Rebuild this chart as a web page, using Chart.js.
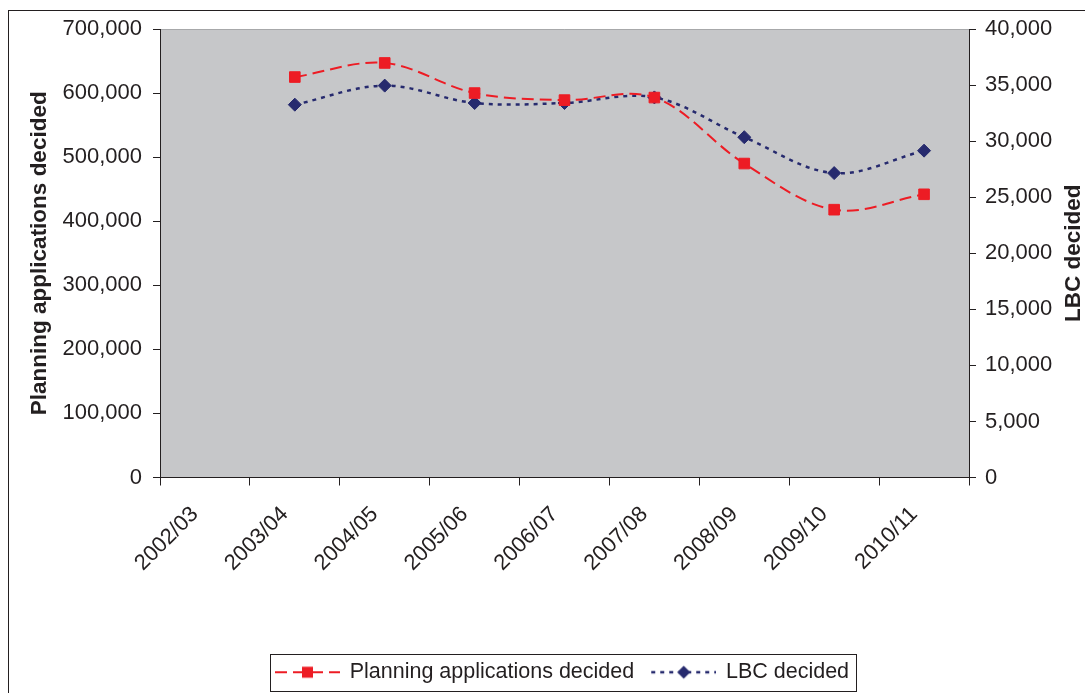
<!DOCTYPE html>
<html>
<head>
<meta charset="utf-8">
<script src="https://cdn.jsdelivr.net/npm/chart.js@4.4.1/dist/chart.umd.min.js"></script>
<style>
  html, body { margin: 0; padding: 0; background: #fff; }
  #wrap { width: 1085px; height: 693px; position: relative; }
</style>
</head>
<body>
<div id="wrap"><canvas id="chart"></canvas></div>
<script>
// years on the x axis
const years = ['2002/03', '2003/04', '2004/05', '2005/06', '2006/07', '2007/08', '2008/09', '2009/10', '2010/11'];
// left axis series
const planningDecided = [null, 625000, 647000, 600000, 589000, 593000, 490000, 418000, 442000];
// right axis series
const lbcDecided = [null, 33250, 34950, 33400, 33400, 33900, 30350, 27150, 29150];

const leftTicks = [0, 100000, 200000, 300000, 400000, 500000, 600000, 700000];
const rightTicks = [0, 5000, 10000, 15000, 20000, 25000, 30000, 35000, 40000];

const RED = '#ed1c24';
const NAVY = '#262a6e';
const INK = '#231f20';
const FONT = "'Liberation Sans', Arial, sans-serif";

// little line + marker picture used as the legend symbol
// canvas is 74 wide, line drawn from 9 to 74 so there is a gap before it
function legendSymbol(color, dash, width, shape) {
    const c = document.createElement('canvas');
    c.width = 74;
    c.height = 16;
    const g = c.getContext('2d');
    g.strokeStyle = color;
    g.lineWidth = width;
    g.setLineDash(dash);
    g.beginPath();
    g.moveTo(9, 8);
    g.lineTo(74, 8);
    g.stroke();
    g.setLineDash([]);
    g.fillStyle = color;
    g.beginPath();
    const cx = 41.5;
    if (shape === 'rect') {
        g.rect(cx - 5.5, 2.5, 11, 11);
    } else {
        g.moveTo(cx, 1.5); g.lineTo(cx + 6.5, 8); g.lineTo(cx, 14.5); g.lineTo(cx - 6.5, 8);
        g.closePath();
    }
    g.fill();
    return c;
}
const symbols = [
    legendSymbol(RED, [12, 6], 2, 'rect'),
    legendSymbol(NAVY, [4, 5], 2.5, 'diamond')
];

const framePlugin = {
    id: 'frame',
    beforeDraw(chart) {
        const ctx = chart.ctx;
        const a = chart.chartArea;
        ctx.save();
        ctx.fillStyle = '#fff';
        ctx.fillRect(0, 0, chart.width, chart.height);
        ctx.strokeStyle = INK;
        ctx.lineWidth = 1;
        ctx.strokeRect(8.5, 10.5, 1200, 1200);
        ctx.fillStyle = '#c6c7c9';
        ctx.fillRect(a.left, a.top, a.right - a.left, a.bottom - a.top);
        ctx.strokeStyle = '#a7a8aa';
        ctx.beginPath();
        ctx.moveTo(a.left, a.top + 0.5);
        ctx.lineTo(a.right, a.top + 0.5);
        ctx.stroke();
        ctx.restore();
    },
    afterLayout(chart) {
        // legend sits a bit right of the canvas centre
        chart.legend.left += 15.5;
        chart.legend.right += 15.5;
    },
    afterDraw(chart) {
        const ctx = chart.ctx;
        const lg = chart.legend;
        const boxes = lg.legendHitBoxes;
        const first = boxes[0];
        const last = boxes[boxes.length - 1];
        ctx.save();
        ctx.strokeStyle = INK;
        ctx.lineWidth = 1;
        const x0 = Math.round(first.left + 3) + 0.5;
        const x1 = Math.round(last.left + last.width + 7) + 0.5;
        ctx.strokeRect(x0, 654.5, x1 - x0, 37);
        // right axis title, reading upwards
        const a = chart.chartArea;
        ctx.translate(1074, (a.top + a.bottom) / 2);
        ctx.rotate(-Math.PI / 2);
        ctx.fillStyle = INK;
        ctx.font = 'bold 22.5px ' + FONT;
        ctx.textAlign = 'center';
        ctx.textBaseline = 'middle';
        ctx.fillText('LBC decided', 0, 0);
        ctx.restore();
    }
};

const fmt = v => Number(v).toLocaleString('en-US');

new Chart(document.getElementById('chart'), {
    type: 'line',
    data: {
        labels: years,
        datasets: [{
            label: 'Planning applications decided',
            data: planningDecided,
            yAxisID: 'y',
            borderColor: RED,
            backgroundColor: RED,
            borderWidth: 2,
            borderDash: [12, 6],
            tension: 0.35,
            pointStyle: 'rect',
            pointRadius: 7.5,
            pointBorderWidth: 1,
            pointBackgroundColor: RED,
            pointBorderColor: RED
        }, {
            label: 'LBC decided',
            data: lbcDecided,
            yAxisID: 'y1',
            borderColor: NAVY,
            backgroundColor: NAVY,
            borderWidth: 2.5,
            borderDash: [4, 5],
            tension: 0.35,
            pointStyle: 'rectRot',
            pointRadius: 6.5,
            pointBorderWidth: 1,
            pointBackgroundColor: NAVY,
            pointBorderColor: NAVY
        }]
    },
    options: {
        responsive: true,
        maintainAspectRatio: false,
        animation: false,
        devicePixelRatio: 1,
        layout: { padding: { top: 29, left: 0, right: 0, bottom: 0 } },
        plugins: {
            tooltip: { enabled: false },
            legend: {
                position: 'bottom',
                labels: {
                    usePointStyle: true,
                    pointStyleWidth: 72,
                    padding: 9,
                    color: INK,
                    font: { family: FONT, size: 21.5 },
                    generateLabels(chart) {
                        const items = Chart.defaults.plugins.legend.labels.generateLabels(chart);
                        items.forEach((it, i) => { it.pointStyle = symbols[i]; });
                        return items;
                    }
                }
            }
        },
        scales: {
            x: {
                offset: true,
                grid: { offset: true, drawOnChartArea: false, drawTicks: true, tickLength: 8, color: INK },
                border: { color: INK, width: 1 },
                ticks: {
                    autoSkip: false,
                    minRotation: 45,
                    maxRotation: 45,
                    padding: 16,
                    labelOffset: -10,
                    color: INK,
                    font: { family: FONT, size: 22 }
                },
                afterFit(s) { s.height = 175; }
            },
            y: {
                position: 'left',
                min: 0,
                max: 700000,
                afterBuildTicks(s) { s.ticks = leftTicks.map(v => ({ value: v })); },
                grid: { drawOnChartArea: false, tickLength: 7, color: INK },
                border: { color: INK, width: 1 },
                ticks: {
                    padding: 11,
                    color: INK,
                    font: { family: FONT, size: 22 },
                    callback: v => fmt(v)
                },
                title: {
                    display: true,
                    text: 'Planning applications decided',
                    color: INK,
                    padding: { top: 26, bottom: 0 },
                    font: { family: FONT, size: 22.5, weight: 'bold' }
                },
                afterFit(s) { s.width = 160; }
            },
            y1: {
                position: 'right',
                min: 0,
                max: 40000,
                afterBuildTicks(s) { s.ticks = rightTicks.map(v => ({ value: v })); },
                grid: { drawOnChartArea: false, tickLength: 7, color: INK },
                border: { color: INK, width: 1 },
                ticks: {
                    padding: 9,
                    color: INK,
                    font: { family: FONT, size: 22 },
                    callback: v => fmt(v)
                },
                afterFit(s) { s.width = 116; }
            }
        }
    },
    plugins: [framePlugin]
});
</script>
</body>
</html>
